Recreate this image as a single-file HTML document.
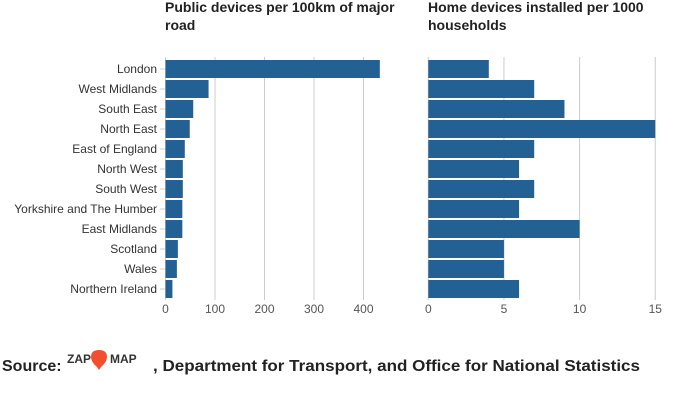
<!DOCTYPE html>
<html><head><meta charset="utf-8"><style>
body{margin:0;width:689px;height:402px;background:#fff;font-family:"Liberation Sans",sans-serif;overflow:hidden}
svg text{font-family:"Liberation Sans",sans-serif}
</style></head><body>
<svg id="chart" width="689" height="402">
<text x="165" y="12" font-size="14" font-weight="bold" fill="#222"><tspan x="165">Public devices per 100km of major</tspan><tspan x="165" dy="18">road</tspan></text>
<text x="428" y="12" font-size="14" font-weight="bold" fill="#222"><tspan x="428">Home devices installed per 1000</tspan><tspan x="428" dy="18">households</tspan></text>
<g id="g"></g>
<text x="2" y="371" font-size="16" font-weight="bold" fill="#222">Source:</text>
<g>
<text x="67" y="363" font-size="12" font-weight="bold" fill="#333">ZAP</text>
<path d="M99 350 q8 0 8 7 q0 5 -6 10 l-2 3 l-2 -3 q-6 -5 -6 -10 q0 -7 8 -7z" fill="#f0502e"/>
<text x="110" y="363" font-size="12" font-weight="bold" fill="#333">MAP</text>
</g>
<text x="153" y="371" font-size="16" font-weight="bold" fill="#222" textLength="487" lengthAdjust="spacingAndGlyphs">, Department for Transport, and Office for National Statistics</text>
</svg>
<script>
const categories=["London","West Midlands","South East","North East","East of England","North West","South West","Yorkshire and The Humber","East Midlands","Scotland","Wales","Northern Ireland"];
const publicDevices=[433,87,56,49,39,35,35,34,34,25,23,14];
const homeDevices=[4,7,9,15,7,6,7,6,10,5,5,6];
const leftTicks=[0,100,200,300,400];
const rightTicks=[0,5,10,15];
const NS="http://www.w3.org/2000/svg";
const g=document.getElementById('g');
function mk(t,a){const e=document.createElementNS(NS,t);for(const k in a)e.setAttribute(k,a[k]);g.appendChild(e);return e;}
const yTop=57,yBottom=300,step=20,barH=18;
const yC=i=>69+i*step;
const xL=v=>165.5+v*0.495;
const xR=v=>428.3+v*15.13;
leftTicks.forEach(t=>{const l=mk('line',{x1:xL(t),x2:xL(t),y1:yTop,y2:yBottom,stroke:'#ccc'});


const tx=mk('text',{x:xL(t),y:313,'font-size':12,fill:'#555','text-anchor':'middle'});tx.textContent=t;

});
rightTicks.forEach(t=>{const l=mk('line',{x1:xR(t),x2:xR(t),y1:yTop,y2:yBottom,stroke:'#ccc'});


const tx=mk('text',{x:xR(t),y:313,'font-size':12,fill:'#555','text-anchor':'middle'});tx.textContent=t;

});
categories.forEach((c,i)=>{
const tx=mk('text',{x:157,y:yC(i)+4,'font-size':12,fill:'#333','text-anchor':'end'});tx.textContent=c;


const tk=mk('line',{x1:160,x2:165,y1:yC(i),y2:yC(i),stroke:'#ccc'});


const b=mk('rect',{x:xL(0),y:yC(i)-barH/2,width:xL(publicDevices[i])-xL(0),height:barH,fill:'#236194'});


const r=mk('rect',{x:xR(0),y:yC(i)-barH/2,width:xR(homeDevices[i])-xR(0),height:barH,fill:'#236194'});


});
</script>
</body></html>
